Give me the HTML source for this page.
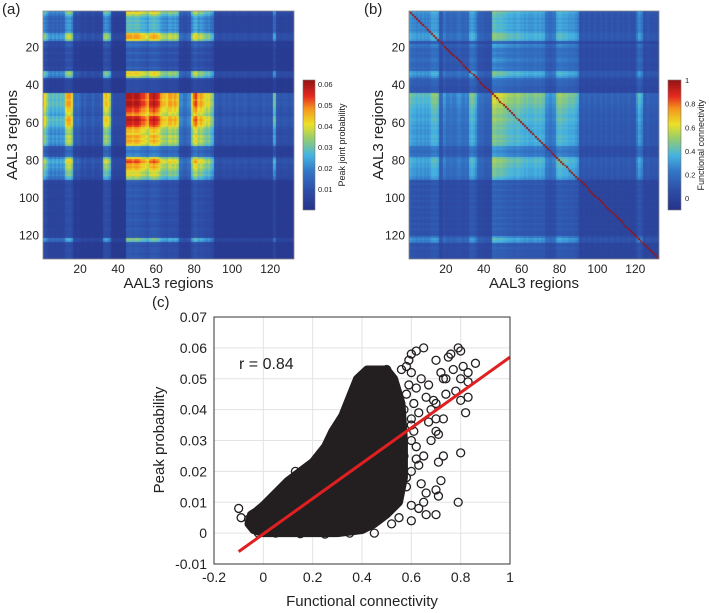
<!DOCTYPE html>
<html><head><meta charset="utf-8">
<style>
body{margin:0;background:#fff;width:709px;height:613px;overflow:hidden;font-family:"Liberation Sans",sans-serif;}
#root{position:relative;width:709px;height:613px;}
canvas{position:absolute;}
svg{position:absolute;left:0;top:0;}
</style></head>
<body>
<div id="root">
<canvas id="hmA" style="left:43px;top:11px" width="251" height="248"></canvas>
<canvas id="hmB" style="left:409px;top:11px" width="250" height="248"></canvas>
<canvas id="cbA" style="left:303px;top:80px" width="12" height="130"></canvas>
<canvas id="cbB" style="left:668px;top:80px" width="13" height="130"></canvas>
<svg id="svg" width="709" height="613"></svg>
</div>
<script>
const profileA=[0.75,0.7,0.6,0.5,0.45,0.5,0.45,0.5,0.45,0.5,0.45,0.5,0.75,0.8,0.8,0.7,0.3,0.25,
0.3,0.25,0.2,0.2,0.25,0.2,0.2,0.2,0.25,0.2,0.2,0.2,0.25,0.2,0.7,0.75,0.7,0.6,
0.2,0.15,0.15,0.15,0.15,0.15,0.15,0.15,
1,1,1,0.95,1,1,1,0.95,0.9,0.9,0.85,0.8,0.95,0.95,1,0.95,0.95,0.9,0.8,0.75,0.75,0.7,
0.8,0.8,0.75,0.8,0.75,0.7,0.35,0.35,0.3,0.3,0.35,0.35,0.7,0.85,0.9,0.8,0.75,0.8,0.75,0.7,
0.65,0.7,0.6,0.55,
0.2,0.22,0.2,0.18,0.2,0.22,0.2,0.2,0.22,0.2,0.18,0.2,0.22,0.2,0.2,0.2,0.22,0.2,0.18,0.2,0.2,0.22,0.2,0.2,0.18,0.2,0.22,0.2,0.2,0.2,0.2,
0.55,0.5,0.2,0.2,0.18,0.2,0.2,0.2,0.18,0.2,0.2];
const profileB=[0.75,0.7,0.65,0.65,0.6,0.65,0.6,0.65,0.6,0.65,0.6,0.65,0.75,0.75,0.75,0.7,0.3,0.3,
0.55,0.5,0.4,0.4,0.45,0.4,0.4,0.45,0.5,0.45,0.4,0.4,0.45,0.4,0.7,0.75,0.7,0.6,
0.4,0.35,0.35,0.35,0.3,0.3,0.3,0.3,
0.95,0.95,0.9,0.9,0.9,0.9,0.85,0.85,0.8,0.8,0.8,0.75,0.75,0.8,0.8,0.75,0.75,0.7,0.75,0.7,0.7,0.7,
0.75,0.75,0.7,0.75,0.7,0.7,0.5,0.5,0.45,0.45,0.5,0.5,0.75,0.8,0.8,0.75,0.75,0.75,0.7,0.7,
0.7,0.7,0.65,0.6,
0.25,0.25,0.3,0.25,0.25,0.3,0.25,0.25,0.3,0.25,0.25,0.3,0.25,0.25,0.3,0.25,0.25,0.3,0.25,0.25,0.3,0.25,0.25,0.3,0.25,0.25,0.3,0.25,0.25,0.25,0.5,
0.65,0.6,0.55,0.25,0.25,0.3,0.25,0.25,0.25,0.25,0.25];
const tickRegions=[20,40,60,80,100,120];
const cbTicksA=[0.01,0.02,0.03,0.04,0.05,0.06];
const cbTicksB=[0,0.2,0.4,0.6,0.8,1];
const scatterXTicks=[-0.2,0,0.2,0.4,0.6,0.8,1];
const scatterYTicks=[-0.01,0,0.01,0.02,0.03,0.04,0.05,0.06,0.07];
const blobX=[-0.06,-0.05,-0.03,0.0,0.05,0.1,0.15,0.2,0.25,0.28,0.32,0.35,0.38,0.42,0.5,0.53,0.56,0.57,0.57,0.55,0.5,0.45,0.4,0.3,0.2,0.1,0.0,-0.04];
const blobY=[0.003,0.006,0.007,0.009,0.013,0.017,0.02,0.023,0.028,0.033,0.038,0.044,0.05,0.053,0.053,0.05,0.042,0.03,0.018,0.01,0.006,0.003,0.001,0.0,0.0,0.0,0.0,0.001];
const outX=[-0.1,-0.09,-0.06,0.58,0.6,0.62,0.65,0.6,0.58,0.62,0.66,0.7,0.72,0.73,0.75,0.76,0.79,0.8,0.81,0.83,0.86,0.8,0.83,0.78,0.8,0.83,0.82,0.74,0.7,0.68,0.7,0.73,0.67,0.7,0.71,0.68,0.73,0.8,0.71,0.72,0.7,0.71,0.79,0.7,0.66,0.65,0.63,0.66,0.64,0.6,0.55,0.52,0.6,0.63,0.62,0.65,0.6,0.57,0.63,0.6,0.57,0.58,0.55,0.45,0.35,0.25,0.15,0.05,-0.02,0.1,0.13,0.28,0.33,0.36,0.4,0.45,0.5,0.56,0.59,0.61,0.64,0.67,0.69,0.74,0.77,0.59,0.61,0.6,0.62,0.58,0.6];
const outY=[0.008,0.005,0.0045,0.054,0.058,0.059,0.06,0.052,0.045,0.047,0.044,0.056,0.052,0.05,0.057,0.058,0.06,0.059,0.054,0.052,0.055,0.05,0.049,0.046,0.043,0.044,0.039,0.045,0.042,0.04,0.037,0.037,0.036,0.033,0.032,0.03,0.025,0.026,0.023,0.017,0.014,0.012,0.01,0.006,0.006,0.01,0.008,0.013,0.016,0.004,0.005,0.003,0.02,0.022,0.028,0.025,0.035,0.04,0.039,0.03,0.025,0.015,0.012,0.0,0.0,-0.0003,-0.0002,0.0,0.0,0.011,0.02,0.02,0.028,0.037,0.045,0.05,0.053,0.053,0.048,0.042,0.05,0.048,0.043,0.05,0.053,0.056,0.033,0.037,0.024,0.018,0.009,0.012];
const fitX=[-0.1,1];
const fitY=[-0.006,0.057];

const cmStops=[[0,[38,52,138]],[0.15,[46,78,168]],[0.3,[52,120,200]],[0.42,[70,180,225]],[0.55,[150,205,110]],[0.66,[235,225,40]],[0.78,[245,150,30]],[0.88,[228,40,32]],[1,[150,20,20]]];
function jet(t){t=Math.max(0,Math.min(1,t));
 for(let i=1;i<cmStops.length;i++){if(t<=cmStops[i][0]){const a=cmStops[i-1],b=cmStops[i],f=(t-a[0])/(b[0]-a[0]);
  return 'rgb('+[0,1,2].map(k=>Math.round(a[1][k]+(b[1][k]-a[1][k])*f)).join(',')+')';}}
 return 'rgb(150,20,20)';}
const N=132;
function drawHM(id,prof,vmin,vmax,scale,off,diag){
 const cv=document.getElementById(id),ctx=cv.getContext('2d');
 const W=cv.width,H=cv.height;
 const sx=k=>(k-1)*W/N, sy=k=>(k-1)*H/N;
 for(let i=1;i<=N;i++)for(let j=1;j<=N;j++){
  let v=prof[i-1]*prof[j-1]*scale+off; if(diag&&i===j)v=1;
  ctx.fillStyle=jet((v-vmin)/(vmax-vmin));
  ctx.fillRect(Math.floor(sx(j)),Math.floor(sy(i)),Math.ceil(W/N)+1,Math.ceil(H/N)+1);
 }
}
drawHM('hmA',profileA,0,0.062,0.06,0,false);
drawHM('hmB',profileB,-0.1,1,0.75,-0.04,true);
function drawCB(id){const cv=document.getElementById(id),ctx=cv.getContext('2d');
 for(let y=0;y<cv.height;y++){ctx.fillStyle=jet(1-y/(cv.height-1));ctx.fillRect(0,y,cv.width,1);}}
drawCB('cbA');drawCB('cbB');

const NS='http://www.w3.org/2000/svg',svg=document.getElementById('svg');
function el(tag,attrs,parent,text){const e=document.createElementNS(NS,tag);for(const k in attrs)e.setAttribute(k,attrs[k]);if(text!==undefined)e.textContent=text;(parent||svg).appendChild(e);return e;}
function txt(x,y,s,size,anchor,name,rot){const t=el('text',{x:x,y:y,'font-size':size,'text-anchor':anchor||'middle',fill:'#222','font-family':'Liberation Sans, sans-serif'},svg,s);
 if(rot)t.setAttribute('transform','rotate(-90 '+x+' '+y+')');
 
 return t;}

function heatAxes(x0,y0,w,h,pre){
 el('rect',{x:x0,y:y0,width:w,height:h,fill:'none',stroke:'#888','stroke-width':0.8});
 tickRegions.forEach(k=>{
  const px=x0+(k-0.5)*w/N, py=y0+(k-0.5)*h/N;
  txt(px,y0+h+14,String(k),12,'middle',pre+'-x-tick');
  txt(x0-4,py+4,String(k),12,'end',pre+'-y-tick');
 });
 txt(x0+w/2,y0+h+29,'AAL3 regions',15,'middle',pre+'-x-axis-title');
}
heatAxes(43,11,251,248,'a');
heatAxes(409,11,250,248,'b');
txt(17,135,'AAL3 regions',15,'middle','a-y-axis-title',true);
txt(383,135,'AAL3 regions',15,'middle','b-y-axis-title',true);
txt(2,14,'(a)',15,'start','panel-a-label');
txt(364,14,'(b)',15,'start','panel-b-label');
txt(152,307,'(c)',15,'start','panel-c-label');
el('rect',{x:303,y:80,width:12,height:130,fill:'none',stroke:'#777','stroke-width':0.6});
el('rect',{x:668,y:80,width:13,height:130,fill:'none',stroke:'#777','stroke-width':0.6});
const cbAy=v=>210-(v-0)/(0.062)*130;
cbTicksA.forEach(v=>{txt(318,cbAy(v)+3,String(v),7.5,'start','cb-a-tick');});
const cbBy=v=>210-(v+0.1)/1.1*130;
cbTicksB.forEach(v=>{txt(685,cbBy(v)+3,String(v),7.5,'start','cb-b-tick');});
txt(345,145,'Peak joint  probability',9,'middle','colorbar-a-title',true);
txt(704,145,'Functional connectivity',9,'middle','colorbar-b-title',true);

const X0=214,X1=510,Y0=317,Y1=564;
const sx=v=>X0+(v+0.2)/1.2*(X1-X0);
const sy=v=>Y1-(v+0.01)/0.08*(Y1-Y0);
const g=el('g',{});


scatterXTicks.forEach(v=>{el('line',{x1:sx(v),x2:sx(v),y1:Y0,y2:Y1,stroke:'#e3e3e3','stroke-width':1},g);
 txt(sx(v),Y1+18,String(v),14,'middle','scatter-x-tick');});
scatterYTicks.forEach(v=>{el('line',{x1:X0,x2:X1,y1:sy(v),y2:sy(v),stroke:'#e3e3e3','stroke-width':1},g);
 txt(X0-7,sy(v)+5,String(v),14,'end','scatter-y-tick');});
const pts=blobX.map((x,i)=>sx(x)+','+sy(blobY[i])).join(' ');
const blob=el('polygon',{points:pts,fill:'#231f20',stroke:'#231f20','stroke-width':8,'stroke-linejoin':'round'},g);


outX.forEach((x,i)=>{const c=el('circle',{cx:sx(x),cy:sy(outY[i]),r:4,fill:'none',stroke:'#231f20','stroke-width':1.3},g);
 
 });
const fl=el('line',{x1:sx(fitX[0]),y1:sy(fitY[0]),x2:sx(fitX[1]),y2:sy(fitY[1]),stroke:'#e02020','stroke-width':3},g);


el('rect',{x:X0,y:Y0,width:X1-X0,height:Y1-Y0,fill:'none',stroke:'#333','stroke-width':1},g);
txt(239,369,'r = 0.84',16,'start','correlation-label');
txt(362,606,'Functional connectivity',15,'middle','scatter-x-axis-title');
txt(164,440,'Peak probability',15,'middle','scatter-y-axis-title',true);
</script>
</body></html>
